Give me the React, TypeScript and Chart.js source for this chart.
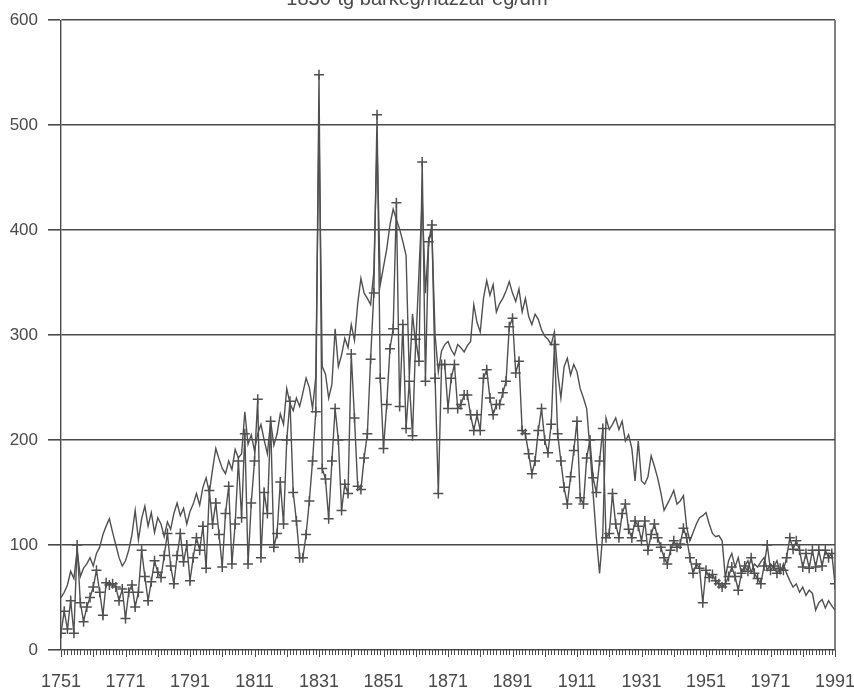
import React, { useEffect, useRef } from 'react';
import { Chart, registerables } from 'chart.js';

Chart.register(...registerables);

const TITLE = '1830-tg barkeg/hazzar eg/dm';
const START_YEAR = 1751;

// annual values 1751..1991
const PLAIN_SERIES = [
  50, 55, 62, 75, 68, 95, 70, 78, 82, 88,
  80, 92, 98, 110, 118, 125, 112, 100, 88, 80,
  85, 95, 110, 133, 105, 125, 137, 118, 131, 112,
  126, 120, 108, 122, 115, 130, 140, 128, 135, 120,
  132, 139, 149, 138, 155, 164, 150, 172, 192, 182,
  173, 168, 180, 172, 191, 183, 187, 227, 196, 205,
  190, 206, 215, 200, 187, 218, 195, 206, 225, 215,
  249, 235, 228, 240, 232, 245, 259, 250, 230, 260,
  500, 270, 263, 240, 253, 306, 270, 281, 297, 288,
  310, 295, 330, 354, 340, 335, 329, 360, 483, 348,
  365, 382, 405, 420, 410, 401, 389, 376, 260, 320,
  290, 360, 430, 340, 390, 398, 300, 265, 285, 291,
  294, 286, 281, 291, 288, 284, 290, 294, 329, 312,
  303, 335, 352, 338, 348, 322, 330, 335, 342, 351,
  340, 332, 344, 322, 335, 318, 310, 320, 315, 305,
  299, 296, 291, 303, 265, 240, 270, 278, 262, 272,
  265, 249, 240, 230, 192, 149, 107, 73, 111, 221,
  210, 215, 221, 210, 218, 199, 205, 192, 161, 199,
  161, 158, 165, 185, 175, 164, 150, 133, 139, 145,
  152, 139, 142, 147, 117, 104, 112, 120, 126, 128,
  131, 120, 111, 108, 109, 104, 69, 85, 92, 79,
  88, 73, 80, 85, 74, 82, 79, 84, 88, 76,
  82, 79, 85, 73, 82, 73, 66, 60, 63, 55,
  60, 52, 57, 54, 38, 45, 48, 40, 47, 42,
  38,
];

const CROSS_SERIES = [
  16, 37, 20, 47, 16, 100, 45, 27, 41, 50,
  60, 76, 55, 33, 64, 62, 63, 60, 47, 58,
  30, 55, 62, 41, 55, 95, 70, 47, 65, 85,
  74, 69, 90, 111, 80, 63, 90, 111, 84, 100,
  66, 88, 107, 95, 118, 78, 152, 120, 140, 110,
  79, 130, 156, 82, 120, 180, 126, 206, 82, 140,
  180, 239, 88, 150, 130, 218, 98, 111, 160, 120,
  200, 237, 150, 123, 88, 88, 110, 142, 180, 227,
  548, 173, 163, 125, 180, 230, 200, 133, 158, 149,
  282, 221, 156, 153, 183, 206, 277, 340, 510, 259,
  192, 234, 287, 306, 426, 232, 310, 211, 256, 204,
  296, 275, 465, 256, 389, 405, 259, 149, 272, 272,
  230, 259, 272, 230, 234, 243, 243, 224, 209, 224,
  209, 259, 267, 240, 224, 234, 234, 245, 256, 308,
  316, 264, 275, 209, 206, 187, 168, 180, 209, 230,
  200, 188, 215, 291, 206, 180, 155, 139, 165, 190,
  218, 145, 139, 183, 200, 164, 150, 180, 211, 107,
  111, 149, 120, 107, 130, 139, 115, 107, 123, 118,
  104, 123, 95, 110, 120, 107, 98, 88, 82, 95,
  104, 98, 101, 116, 107, 88, 73, 82, 78, 45,
  76, 69, 72, 66, 63, 60, 63, 70, 79, 70,
  57, 73, 80, 75, 88, 73, 68, 63, 80, 100,
  76, 80, 73, 78, 76, 88, 107, 96, 104, 95,
  79, 92, 78, 95, 79, 95, 80, 95, 88, 92,
  63,
];

const YEARS = PLAIN_SERIES.map((_, i) => START_YEAR + i);
const X_TICK_LABELS = [1751, 1771, 1791, 1811, 1831, 1851, 1871, 1891, 1911, 1931, 1951, 1971, 1991];
const Y_TICK_VALUES = [0, 100, 200, 300, 400, 500, 600];

const INK = '#4a4a4a';
const LINE = '#505050';
const FONT = '"Liberation Sans", Arial, sans-serif';

const framePlugin = {
  id: 'frame',
  afterDraw(chart: any) {
    const { ctx, chartArea, scales } = chart;
    const xs = scales.x;
    ctx.save();
    ctx.strokeStyle = INK;
    ctx.lineWidth = 1.4;
    ctx.beginPath();
    ctx.moveTo(chartArea.right, chartArea.top);
    ctx.lineTo(chartArea.right, chartArea.bottom);
    ctx.stroke();
    ctx.lineWidth = 1;
    for (const yr of YEARS) {
      const px = Math.round(xs.getPixelForValue(yr)) + 0.5;
      const len = (yr - START_YEAR) % 10 === 0 ? 7 : 5;
      ctx.beginPath();
      ctx.moveTo(px, chartArea.bottom);
      ctx.lineTo(px, chartArea.bottom + len);
      ctx.stroke();
    }
    ctx.fillStyle = INK;
    ctx.font = '20px ' + FONT;
    ctx.textAlign = 'center';
    ctx.textBaseline = 'alphabetic';
    ctx.fillText(TITLE, 417, 5);
    ctx.restore();
  },
};

export default function App() {
  const ref = useRef<HTMLCanvasElement | null>(null);

  useEffect(() => {
    if (!ref.current) return;
    const chart = new Chart(ref.current, {
      type: 'line',
      data: {
        datasets: [
          {
            label: 'plain',
            data: YEARS.map((x, i) => ({ x, y: PLAIN_SERIES[i] })),
            borderColor: LINE,
            borderWidth: 1.4,
            pointRadius: 0,
            tension: 0,
            fill: false,
          },
          {
            label: 'cross',
            data: YEARS.map((x, i) => ({ x, y: CROSS_SERIES[i] })),
            borderColor: LINE,
            borderWidth: 1.4,
            pointStyle: 'cross',
            pointRadius: 5,
            pointBorderWidth: 1.5,
            pointBorderColor: LINE,
            pointBackgroundColor: LINE,
            tension: 0,
            fill: false,
          },
        ],
      },
      options: {
        responsive: false,
        animation: false,
        devicePixelRatio: 1,
        layout: { padding: { top: 17, right: 0, left: 0, bottom: 0 } },
        plugins: {
          legend: { display: false },
          tooltip: { enabled: false },
          title: { display: false },
        },
        scales: {
          x: {
            type: 'linear',
            min: 1751,
            max: 1991,
            afterBuildTicks: (scale: any) => {
              scale.ticks = X_TICK_LABELS.map((v) => ({ value: v }));
            },
            afterFit: (scale: any) => {
              scale.height = 42;
              scale.paddingRight = 19;
              scale.paddingLeft = 0;
            },
            grid: { display: false, drawTicks: false },
            border: { display: false },
            ticks: {
              autoSkip: false,
              maxRotation: 0,
              padding: 21,
              color: INK,
              font: { family: FONT, size: 18 },
              callback: (v: any) => String(v),
            },
          },
          y: {
            min: 0,
            max: 600,
            afterBuildTicks: (scale: any) => {
              scale.ticks = Y_TICK_VALUES.map((v) => ({ value: v }));
            },
            afterFit: (scale: any) => {
              scale.width = 61;
            },
            grid: {
              color: INK,
              lineWidth: 1.6,
              drawTicks: true,
              tickLength: 13,
            },
            border: { display: true, color: INK, width: 1.4 },
            ticks: {
              padding: 10,
              color: INK,
              font: { family: FONT, size: 17 },
            },
          },
        },
      },
      plugins: [framePlugin],
    });
    return () => chart.destroy();
  }, []);

  return (
    <div style={{ position: 'absolute', left: 0, top: 0, width: 854, height: 692, background: '#fff' }}>
      <canvas ref={ref} width={854} height={692} style={{ display: 'block' }} />
    </div>
  );
}
